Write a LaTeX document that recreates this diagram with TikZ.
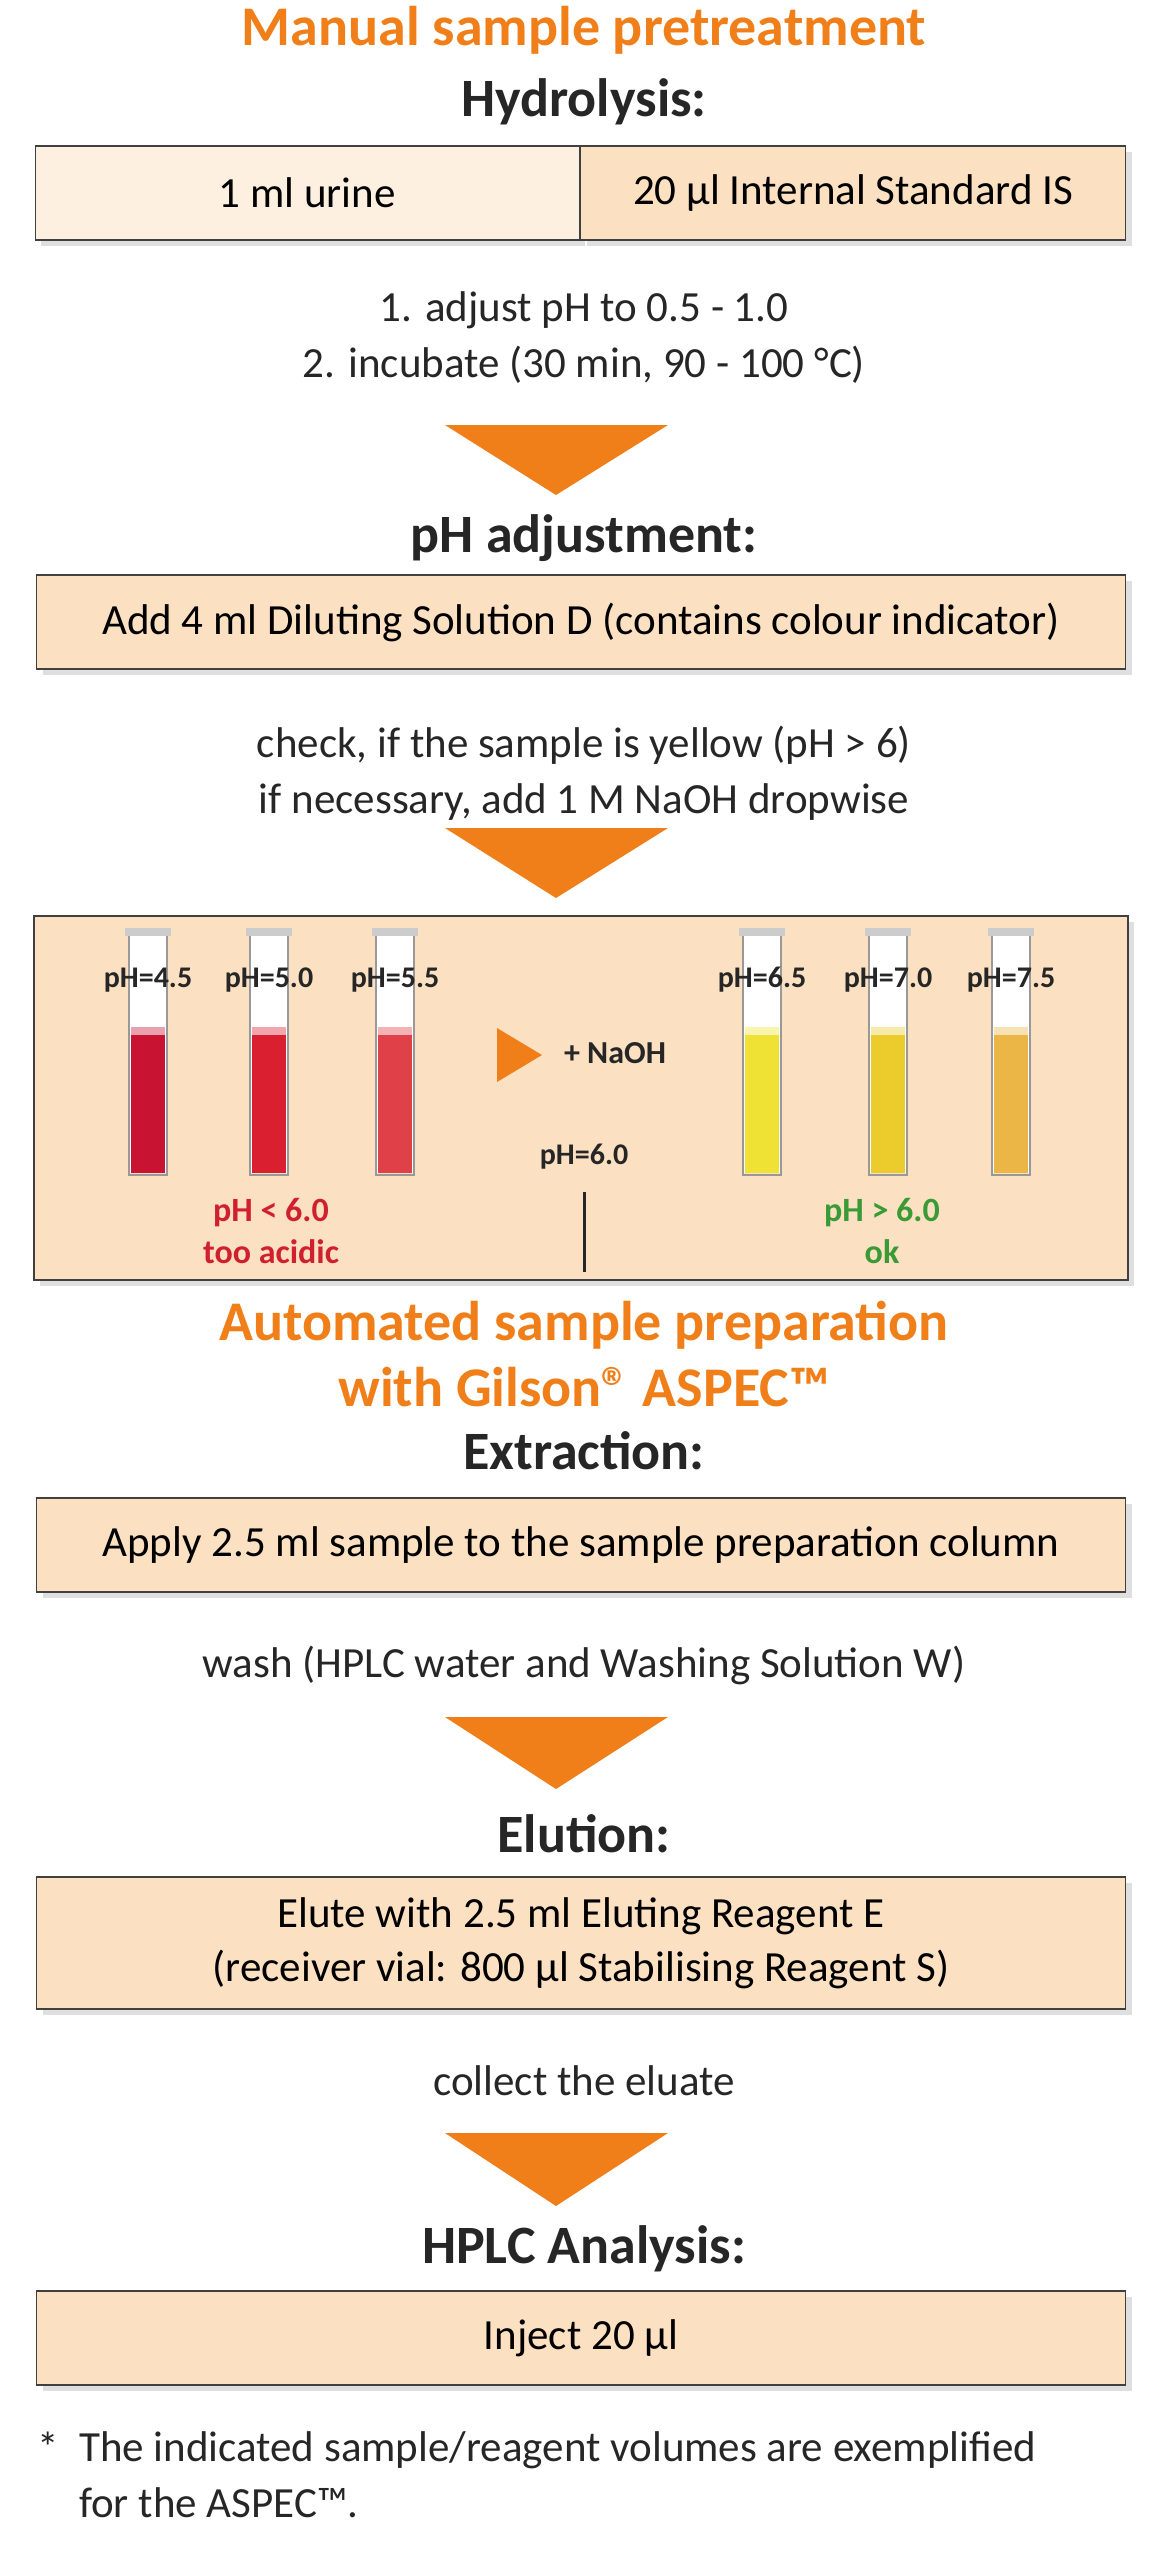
\documentclass[tikz,border=0pt]{standalone}
\usepackage{fontspec}
\setmainfont{Carlito}
\usetikzlibrary{shadows}
\definecolor{flowOrange}{RGB}{240,127,26}
\definecolor{boxPeach}{RGB}{252,224,194}
\definecolor{boxLight}{RGB}{254,240,224}
\definecolor{acidRed}{RGB}{208,32,46}
\definecolor{okGreen}{RGB}{58,154,53}
\definecolor{liqA}{RGB}{200,20,50}
\definecolor{liqB}{RGB}{218,32,48}
\definecolor{liqC}{RGB}{224,64,72}
\definecolor{liqD}{RGB}{240,226,52}
\definecolor{liqE}{RGB}{236,204,44}
\definecolor{liqF}{RGB}{236,182,70}
\tikzset{
  heading/.style={font=\fontsize{27}{30}\selectfont\bfseries, text=black!85},
  flowtitle/.style={font=\fontsize{28}{33}\selectfont\bfseries, text=flowOrange, align=center},
  stepbox/.style={draw=black!75, line width=0.6pt, fill=boxPeach, minimum height=47pt,
    minimum width=544.5pt, align=center, font=\fontsize{21.5}{27}\selectfont,
    drop shadow={opacity=0.25, shadow xshift=3pt, shadow yshift=-3pt}},
  remark/.style={font=\fontsize{21.5}{28}\selectfont, text=black!85, align=center},
  down/.style={fill=flowOrange},
  phlab/.style={font=\fontsize{15}{17}\selectfont\bfseries, text=black!85},
}
\newcommand{\tube}[3]{% x, liquid colour, name
  \fill[white] (#1-19,932) rectangle (#1+19,1173);
  \fill[#2] (#1-17,1033) rectangle (#1+17,1173);
  \fill[#2!40] (#1-17,1027) rectangle (#1+17,1035);
  \draw[black!40, line width=0.6pt] (#1-19,934) -- (#1-19,1175) -- (#1+19,1175) -- (#1+19,934);
  \fill[black!20] (#1-23,928) rectangle (#1+23,936);
  \coordinate (#3) at (#1,980);
}
\begin{document}
\begin{tikzpicture}[x=0.5pt,y=-0.5pt]
\useasboundingbox (0,0) rectangle (1176,2560);
% Manual part
\node[flowtitle] (manual) at (584,30) {Manual sample pretreatment};
\node[heading] (hydro) at (584,102) {Hydrolysis:};
\node[stepbox, fill=boxLight, minimum width=272pt, anchor=east] (urine) at (580,193) {1 ml urine};
\node[stepbox, minimum width=272.5pt, anchor=west] (is) at (580,193) {20 µl Internal Standard IS};
\node[remark] (incub) at (584,338) {1. adjust pH to 0.5 - 1.0\\2. incubate (30 min, 90 - 100 °C)};
\fill[down] (445,425) -- (668,425) -- (556,495) -- cycle;
\node[heading] (phadj) at (584,538) {pH adjustment:};
\node[stepbox] (dilute) at (581,622) {Add 4 ml Diluting Solution D (contains colour indicator)};
\node[remark] (check) at (584,773) {check, if the sample is yellow (pH > 6)\\if necessary, add 1 M NaOH dropwise};
\fill[down] (445,828) -- (668,828) -- (556,898) -- cycle;
% tube panel
\node[stepbox, minimum width=547pt, minimum height=182pt] (panel) at (581,1098) {};
\tube{148}{liqA}{t1}
\tube{269}{liqB}{t2}
\tube{395}{liqC}{t3}
\tube{762}{liqD}{t4}
\tube{888}{liqE}{t5}
\tube{1011}{liqF}{t6}
\foreach \t/\v in {t1/4.5,t2/5.0,t3/5.5,t4/6.5,t5/7.0,t6/7.5}
  \node[phlab] at (\t) {pH=\v};
\fill[down] (497,1028) -- (542,1055) -- (497,1082) -- cycle;
\node[phlab, font=\fontsize{16}{18}\selectfont\bfseries] (naoh) at (615,1053) {+ NaOH};
\node[phlab] (neutral) at (584,1157) {pH=6.0};
\coordinate (lineTop) at (584,1192);
\coordinate (lineBot) at (584,1272);
\draw[line width=1.5pt, black!85] (lineTop) -- (lineBot);
\node[font=\fontsize{17}{21}\selectfont\bfseries, text=acidRed, align=center] (acid) at (271,1231) {pH < 6.0\\too acidic};
\node[font=\fontsize{17}{21}\selectfont\bfseries, text=okGreen, align=center] (ok) at (882,1231) {pH > 6.0\\ok};
% Automated part
\node[flowtitle] (auto) at (584,1354) {Automated sample preparation\\with Gilson® ASPEC™};
\node[heading] (extract) at (584,1451) {Extraction:};
\node[stepbox] (apply) at (581,1545) {Apply 2.5 ml sample to the sample preparation column};
\node[remark] (wash) at (584,1665) {wash (HPLC water and Washing Solution W)};
\fill[down] (445,1717) -- (668,1717) -- (556,1789) -- cycle;
\node[heading] (elution) at (584,1834) {Elution:};
\node[stepbox, minimum height=66pt] (elute) at (581,1943) {Elute with 2.5 ml Eluting Reagent E\\(receiver vial: 800 µl Stabilising Reagent S)};
\node[remark] (collect) at (584,2081) {collect the eluate};
\fill[down] (445,2133) -- (668,2133) -- (556,2206) -- cycle;
\node[heading] (hplc) at (584,2249) {HPLC Analysis:};
\node[stepbox] (inject) at (581,2338) {Inject 20 µl};
\node[remark, anchor=north west] (star) at (30,2425) {*};
\node[remark, anchor=north west, align=left] (foot) at (72,2425) {The indicated sample/reagent volumes are exemplified\\for the ASPEC™.};
\end{tikzpicture}
\end{document}
